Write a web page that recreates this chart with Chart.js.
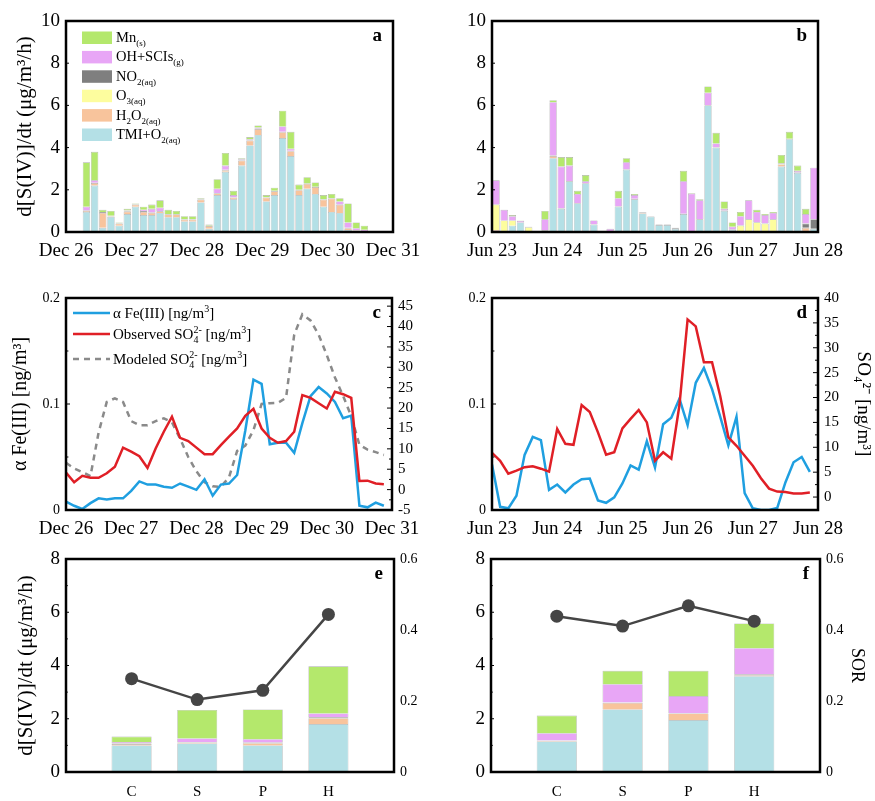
<!DOCTYPE html>
<html>
<head>
<meta charset="utf-8">
<script src="https://cdn.jsdelivr.net/npm/chart.js@4.4.0/dist/chart.umd.min.js"></script>
<style>
  body { margin: 0; background: #fff; width: 875px; height: 801px; position: relative; overflow: hidden; }
  canvas { position: absolute; }
</style>
</head>
<body>
<canvas id="pa" width="440" height="260" style="left:0;top:0"></canvas>
<canvas id="pb" width="435" height="260" style="left:440px;top:0"></canvas>
<canvas id="pc" width="440" height="275" style="left:0;top:260px"></canvas>
<canvas id="pd" width="435" height="275" style="left:440px;top:260px"></canvas>
<canvas id="pe" width="440" height="266" style="left:0;top:535px"></canvas>
<canvas id="pf" width="435" height="266" style="left:440px;top:535px"></canvas>
<script>
/* S(IV) oxidation pathways, Fe(III) and sulfate — six panels */

// ── tick labels ─────────────────────────────────────────────────
const winterDays = ['Dec 26', 'Dec 27', 'Dec 28', 'Dec 29', 'Dec 30', 'Dec 31'];
const summerDays = ['Jun 23', 'Jun 24', 'Jun 25', 'Jun 26', 'Jun 27', 'Jun 28'];
const groups = ['C', 'S', 'P', 'H'];

// ── panel a: 3-hourly rates, winter ─────────────────────────────
const aTMI  = [0, 0, 0.95, 2.2, 0.2, 0.72, 0.3, 0.85, 1.2, 0.8, 0.8, 0.9, 0.7, 0.7, 0.5, 0.5, 1.4, 0.15, 1.75, 2.85, 1.55, 3.15, 4.1, 4.6, 1.45, 1.75, 4.45, 3.6, 1.75, 2.05, 1.8, 1.2, 0.95, 0.9, 0.1, 0.05, 0, 0, 0, 0];
const aH2O2 = [0, 0, 0.05, 0.12, 0.7, 0.03, 0.1, 0.12, 0.1, 0.15, 0.1, 0.08, 0.13, 0.13, 0.08, 0.08, 0.13, 0.13, 0.08, 0.08, 0.08, 0.23, 0.23, 0.28, 0.18, 0.18, 0.28, 0.23, 0.23, 0.23, 0.33, 0.33, 0.63, 0.38, 0.08, 0.02, 0.02, 0.02, 0.01, 0.01];
const aO3   = [0, 0, 0, 0, 0, 0, 0, 0, 0, 0, 0, 0, 0, 0, 0, 0, 0, 0, 0, 0, 0, 0, 0, 0, 0, 0, 0, 0, 0, 0, 0, 0, 0, 0, 0, 0, 0, 0, 0, 0];
const aNO2  = [0.02, 0.03, 0.02, 0.02, 0.05, 0.02, 0.02, 0.02, 0.02, 0.05, 0.02, 0.02, 0.02, 0.02, 0.02, 0.02, 0.02, 0.02, 0.02, 0.02, 0.02, 0.02, 0.02, 0.02, 0.02, 0.02, 0.02, 0.02, 0.02, 0.02, 0.02, 0.02, 0.02, 0.02, 0.02, 0.01, 0.01, 0.01, 0.01, 0.01];
const aOH   = [0, 0.02, 0.18, 0.11, 0, 0, 0, 0.03, 0, 0.05, 0.18, 0.15, 0, 0, 0, 0, 0, 0, 0.2, 0.2, 0.1, 0.05, 0.05, 0.05, 0, 0, 0.25, 0.1, 0, 0, 0, 0, 0, 0.15, 0.25, 0.1, 0.08, 0.01, 0.01, 0];
const aMn   = [0, 0, 2.1, 1.35, 0.1, 0.23, 0.03, 0.08, 0.03, 0.15, 0.2, 0.35, 0.2, 0.15, 0.15, 0.15, 0.05, 0.05, 0.45, 0.6, 0.2, 0.05, 0.1, 0.1, 0.1, 0.15, 0.75, 0.8, 0.25, 0.3, 0.2, 0.2, 0.2, 0.15, 0.9, 0.27, 0.19, 0.01, 0, 0];

// ── panel b: 3-hourly rates, summer ─────────────────────────────
const bTMI  = [0.05, 0, 0.3, 0.45, 0, 0, 0.03, 3.5, 1.1, 2.4, 1.35, 2.3, 0.35, 0, 0, 1.2, 2.95, 1.55, 0.88, 0.73, 0.33, 0.33, 0.15, 0.85, 0, 0.6, 6.0, 4.0, 1.0, 0.1, 0, 0, 0, 0.05, 0, 3.1, 4.4, 2.8, 0, 0.15];
const bH2O2 = [0.05, 0, 0, 0, 0.05, 0, 0, 0.1, 0, 0, 0, 0, 0, 0, 0, 0, 0, 0, 0.05, 0, 0, 0, 0, 0, 0, 0, 0, 0, 0, 0, 0, 0, 0, 0, 0, 0.1, 0, 0, 0.2, 0];
const bO3   = [1.2, 0.55, 0.25, 0, 0.18, 0, 0, 0, 0, 0, 0, 0, 0, 0, 0, 0, 0, 0, 0, 0, 0, 0, 0, 0, 0, 0, 0, 0, 0, 0, 0.3, 0.6, 0.45, 0.35, 0.6, 0.05, 0, 0, 0, 0];
const bNO2  = [0, 0, 0, 0, 0.02, 0.05, 0.05, 0.02, 0.02, 0.02, 0.02, 0.02, 0.02, 0.01, 0.01, 0.02, 0.02, 0.02, 0.02, 0.02, 0.02, 0.02, 0.05, 0.02, 0.02, 0.02, 0.02, 0.02, 0.02, 0.02, 0.02, 0.02, 0.02, 0.02, 0.02, 0.02, 0.02, 0.02, 0.2, 0.45];
const bOH   = [1.15, 0.5, 0.2, 0.08, 0, 0, 0.52, 2.53, 1.98, 0.73, 0.43, 0.08, 0.18, 0.02, 0.14, 0.38, 0.33, 0.18, 0, 0, 0, 0, 0, 1.53, 1.8, 0.88, 0.58, 0.18, 0.08, 0.13, 0.43, 0.88, 0.48, 0.38, 0.28, 0, 0, 0.08, 0.45, 2.45];
const bMn   = [0, 0, 0.05, 0.02, 0, 0, 0.4, 0.1, 0.45, 0.4, 0.15, 0.3, 0, 0, 0, 0.35, 0.2, 0.05, 0, 0, 0, 0, 0, 0.5, 0.03, 0.05, 0.3, 0.5, 0.35, 0.2, 0.2, 0, 0.1, 0.05, 0.05, 0.38, 0.33, 0.25, 0.25, 0];

// ── panel c: winter Fe(III) and sulfate ─────────────────────────
const cFe  = [0.008, 0.004, 0.001, 0.0065, 0.011, 0.010, 0.011, 0.011, 0.018, 0.027, 0.024, 0.024, 0.022, 0.021, 0.025, 0.022, 0.019, 0.029, 0.0135, 0.024, 0.025, 0.033, 0.075, 0.123, 0.119, 0.062, 0.0635, 0.0635, 0.054, 0.082, 0.1075, 0.116, 0.110, 0.102, 0.0865, 0.089, 0.004, 0.0025, 0.007, 0.004];
const cObs = [4.2, 1.8, 3.4, 2.9, 2.9, 4.0, 5.6, 10.3, 9.3, 8.2, 5.3, 10.1, 14.2, 17.9, 12.7, 11.9, 10.3, 8.7, 8.7, 10.9, 13.0, 15.0, 18.1, 19.8, 15.0, 12.7, 11.5, 11.9, 14.2, 23.2, 22.5, 21.2, 19.9, 24.0, 23.4, 22.5, 2.1, 2.2, 1.5, 1.3];
const cMod = [6.6, 5.2, 4.3, 3.3, 14, 21.5, 22.4, 21.5, 16.8, 15.8, 15.8, 16.8, 17.5, 16.5, 12.5, 8, 4.5, 1.8, 0.8, 0.7, 3, 9.5, 10.8, 14.6, 21, 21.2, 21.3, 22.5, 38, 43, 41.5, 38, 33, 27.5, 23, 18, 11, 9.8, 9.2, 8.5];

// ── panel d: summer Fe(III) and sulfate ─────────────────────────
const dFe  = [0.043, 0.003, 0.0016, 0.0135, 0.052, 0.069, 0.066, 0.019, 0.024, 0.0165, 0.024, 0.029, 0.0296, 0.009, 0.0068, 0.012, 0.025, 0.042, 0.038, 0.065, 0.040, 0.081, 0.087, 0.105, 0.080, 0.120, 0.134, 0.114, 0.088, 0.061, 0.088, 0.016, 0.0016, 0, 0, 0.002, 0.026, 0.045, 0.050, 0.036];
const dObs = [8.9, 7.3, 4.7, 5.3, 6.0, 6.2, 5.7, 5.1, 13.7, 10.7, 10.5, 18.5, 17.1, 13.0, 8.5, 9.0, 13.8, 15.7, 17.5, 15.0, 7.3, 9.0, 7.7, 18.5, 35.7, 34.3, 27.1, 27.1, 20.3, 12.0, 10.3, 8.3, 6.3, 3.8, 1.7, 1.1, 1.0, 0.7, 0.7, 0.9];

// ── panels e, f: mean rates per period and SOR ──────────────────
const eTMI  = [1.0, 1.07, 1.0, 1.8];
const eH2O2 = [0.05, 0.03, 0.08, 0.22];
const eO3   = [0.01, 0.01, 0.01, 0.02];
const eNO2  = [0.02, 0.02, 0.02, 0.03];
const eOH   = [0.05, 0.13, 0.12, 0.13];
const eMn   = [0.2, 1.07, 1.12, 1.77];
const eSOR  = [0.263, 0.204, 0.23, 0.444];

const fTMI  = [1.15, 2.35, 1.95, 3.6];
const fH2O2 = [0.02, 0.25, 0.25, 0.03];
const fO3   = [0, 0, 0, 0];
const fNO2  = [0.01, 0.01, 0.01, 0.04];
const fOH   = [0.28, 0.69, 0.64, 0.98];
const fMn   = [0.66, 0.5, 0.95, 0.93];
const fSOR  = [0.439, 0.411, 0.468, 0.425];

// ── styling ─────────────────────────────────────────────────────
const FONT = '"Liberation Serif", "Times New Roman", serif';
Chart.defaults.font.family = FONT;
Chart.defaults.color = '#000';

const col = {
  TMI: '#b4e0e6', H2O2: '#f8c49c', O3: '#fdfd9e',
  NO2: '#7f7f7f', OH: '#e8a6f6', Mn: '#b4e86c',
};
const blue = '#1f9fe0', red = '#e01f26', grey = '#8a8a8a';

const legendBars = [
  { color: col.Mn,   parts: [['Mn', ''], ['(s)', 'sub']] },
  { color: col.OH,   parts: [['OH+SCIs', ''], ['(g)', 'sub']] },
  { color: col.NO2,  parts: [['NO', ''], ['2(aq)', 'sub']] },
  { color: col.O3,   parts: [['O', ''], ['3(aq)', 'sub']] },
  { color: col.H2O2, parts: [['H', ''], ['2', 'sub'], ['O', ''], ['2(aq)', 'sub']] },
  { color: col.TMI,  parts: [['TMI+O', ''], ['2(aq)', 'sub']] },
];
const legendLines = [
  { color: blue, dash: [], parts: [['\u03b1 Fe(III) [ng/m', ''], ['3', 'sup'], [']', '']] },
  { color: red,  dash: [], parts: [['Observed SO', ''], ['4', 'sub'], ['2-', 'over'], [' [ng/m', ''], ['3', 'sup'], [']', '']] },
  { color: grey, dash: [6, 5], parts: [['Modeled SO', ''], ['4', 'sub'], ['2-', 'over'], [' [ng/m', ''], ['3', 'sup'], [']', '']] },
];
const legendLineY = [15, 36, 61];

// text with sub/superscripts on the canvas
function richText(ctx, parts, x, y, size, ratio) {
  let cx = x, lastStart = x, lastEnd = x;
  for (const [t, m] of parts) {
    const s = m ? Math.round(size * ratio) : size;
    ctx.font = `${s}px ${FONT}`;
    const w = ctx.measureText(t).width;
    const sx = m === 'over' ? lastStart : cx;
    const dy = m === 'sub' ? size * 0.28 : (m === 'sup' || m === 'over') ? -size * 0.42 : 0;
    ctx.fillText(t, sx, y + dy);
    if (m === 'over') {
      cx = Math.max(lastEnd, sx + w);
    } else {
      lastStart = sx; lastEnd = sx + w; cx = sx + w;
    }
  }
}

// frame, inward ticks, legend and panel letter
const panelPlugin = {
  id: 'panel',
  afterDatasetsDraw(chart, args, o) {
    const { ctx, chartArea: ca } = chart;
    ctx.save();
    ctx.textAlign = 'left';
    ctx.textBaseline = 'alphabetic';

    if (o.legend === 'bars') {
      legendBars.forEach((item, k) => {
        const y = ca.top + 10.5 + k * 19.4;
        ctx.fillStyle = item.color;
        ctx.fillRect(ca.left + 16, y, 30, 12.5);
        ctx.fillStyle = '#000';
        richText(ctx, item.parts, ca.left + 50, y + 10.5, 14.5, 0.6);
      });
    }
    if (o.legend === 'lines') {
      legendLines.forEach((item, k) => {
        const y = ca.top + legendLineY[k];
        ctx.strokeStyle = item.color;
        ctx.lineWidth = 2.5;
        ctx.setLineDash(item.dash);
        ctx.beginPath();
        ctx.moveTo(ca.left + 7, y);
        ctx.lineTo(ca.left + 44, y);
        ctx.stroke();
        ctx.setLineDash([]);
        ctx.fillStyle = '#000';
        richText(ctx, item.parts, ca.left + 47, y + 5, 15, 0.68);
      });
    }

    ctx.strokeStyle = '#000';
    ctx.lineWidth = 1;
    (o.ticks || []).forEach(([id, len, minor]) => {
      const s = chart.scales[id];
      const edge = s.position === 'left' ? ca.left : ca.right;
      const dir = s.position === 'left' ? 1 : -1;
      const px = s.ticks.map(t => s.getPixelForValue(t.value));
      ctx.beginPath();
      px.forEach((p, i) => {
        ctx.moveTo(edge, p); ctx.lineTo(edge + dir * len, p);
        if (minor && i > 0) {
          const m = (p + px[i - 1]) / 2;
          ctx.moveTo(edge, m); ctx.lineTo(edge + dir * len * 0.6, m);
        }
      });
      ctx.stroke();
    });

    ctx.lineWidth = 2.5;
    ctx.strokeRect(ca.left, ca.top, ca.right - ca.left, ca.bottom - ca.top);

    ctx.fillStyle = '#000';
    ctx.font = `bold 19px ${FONT}`;
    ctx.textAlign = 'right';
    ctx.textBaseline = 'middle';
    ctx.fillText(o.letter, ca.right - 11, ca.top + 15);
    ctx.restore();
  },
};

// ── axis helpers ────────────────────────────────────────────────
function vAxis(o) {
  return {
    type: 'linear', position: o.pos || 'left', min: o.min, max: o.max,
    grid: { display: false, drawTicks: false }, border: { display: false },
    ticks: { stepSize: o.step, includeBounds: false, padding: 6, font: { size: o.size } },
    title: o.title
      ? { display: true, text: o.title, font: { size: o.tsize }, padding: { top: o.tpad, bottom: 0 } }
      : { display: false },
    afterFit: s => { s.width = o.w; },
  };
}

function dayAxis(labels, h) {
  return {
    type: 'linear', min: 0, max: 40, offset: false,
    grid: { display: false, drawTicks: false }, border: { display: false },
    ticks: { stepSize: 8, autoSkip: false, maxRotation: 0, padding: 8, font: { size: 19 },
             callback: v => labels[v / 8] },
    afterFit: s => { s.height = h; },
  };
}

function groupAxis(h) {
  return {
    type: 'linear', min: 0, max: 5, offset: false,
    grid: { display: false, drawTicks: false }, border: { display: false },
    ticks: { stepSize: 1, autoSkip: false, maxRotation: 0, padding: 11, font: { size: 15 },
             callback: v => groups[v - 1] || '' },
    afterFit: s => { s.height = h; },
  };
}

function stack(series, xOf, pct) {
  return series.map(([vals, color]) => ({
    type: 'bar', stack: 's', yAxisID: 'y',
    data: vals.map((v, i) => ({ x: xOf(i), y: v })),
    backgroundColor: color,
    borderColor: 'rgba(105,105,105,0.55)',
    borderWidth: 0.6,
    barPercentage: pct, categoryPercentage: 1,
  }));
}

function line(vals, color, axis, dash) {
  return {
    type: 'line', yAxisID: axis,
    data: vals.map((v, i) => ({ x: i, y: v })),
    borderColor: color, borderWidth: 2.5, borderDash: dash || [],
    pointRadius: 0, tension: 0, fill: false,
  };
}

function sorLine(vals) {
  return {
    type: 'line', yAxisID: 'y1',
    data: vals.map((v, i) => ({ x: i + 1, y: v })),
    borderColor: '#454545', borderWidth: 2.5,
    pointRadius: 6.5, pointBackgroundColor: '#454545', pointBorderWidth: 0,
    tension: 0, fill: false,
  };
}

function panel(id, type, datasets, scales, pad, extra) {
  return new Chart(document.getElementById(id), {
    type,
    data: { datasets },
    options: {
      responsive: false, animation: false, events: [],
      layout: { padding: pad },
      plugins: { legend: { display: false }, tooltip: { enabled: false }, panel: extra },
      scales,
    },
    plugins: [panelPlugin],
  });
}

const rateTitle = 'd[S(IV)]/dt (\u03bcg/m\u00b3/h)';
const slot = i => i + 0.5;

// ── a ──
panel('pa', 'bar',
  stack([[aTMI, col.TMI], [aH2O2, col.H2O2], [aO3, col.O3], [aNO2, col.NO2], [aOH, col.OH], [aMn, col.Mn]], slot, 0.9),
  {
    x: dayAxis(winterDays, 28),
    y: Object.assign(vAxis({ min: 0, max: 10, step: 2, size: 19, w: 66, title: rateTitle, tsize: 21, tpad: 13 }), { stacked: true }),
  },
  { top: 21, right: 47, bottom: 0, left: 0 },
  { letter: 'a', legend: 'bars', ticks: [['y', 3]] });

// ── b ──
panel('pb', 'bar',
  stack([[bTMI, col.TMI], [bH2O2, col.H2O2], [bO3, col.O3], [bNO2, col.NO2], [bOH, col.OH], [bMn, col.Mn]], slot, 0.9),
  {
    x: dayAxis(summerDays, 28),
    y: Object.assign(vAxis({ min: 0, max: 10, step: 2, size: 19, w: 52 }), { stacked: true }),
  },
  { top: 21, right: 57, bottom: 0, left: 0 },
  { letter: 'b', ticks: [['y', 3]] });

// ── c ──
panel('pc', 'line',
  [line(cObs, red, 'y1'), line(cFe, blue, 'y'), line(cMod, grey, 'y1', [6, 5])],
  {
    x: dayAxis(winterDays, 25),
    y: vAxis({ min: 0, max: 0.2, step: 0.1, size: 14, w: 66, title: '\u03b1 Fe(III) [ng/m\u00b3]', tsize: 20, tpad: 9 }),
    y1: vAxis({ pos: 'right', min: -5, max: 47, step: 5, size: 15, w: 48 }),
  },
  { top: 38, right: 0, bottom: 0, left: 0 },
  { letter: 'c', legend: 'lines', ticks: [['y', 4, true], ['y1', 5, true]] });

// ── d ──
panel('pd', 'line',
  [line(dObs, red, 'y1'), line(dFe, blue, 'y')],
  {
    x: dayAxis(summerDays, 25),
    y: vAxis({ min: 0, max: 0.2, step: 0.1, size: 14, w: 52 }),
    y1: vAxis({ pos: 'right', min: -2.6, max: 40, step: 5, size: 15, w: 57, title: 'SO\u2084\u00b2\u207b [ng/m\u00b3]', tsize: 19, tpad: 1 }),
  },
  { top: 38, right: 0, bottom: 0, left: 0 },
  { letter: 'd', ticks: [['y', 4, true], ['y1', 5, true]] });

// ── e ──
panel('pe', 'bar',
  [sorLine(eSOR)].concat(stack([[eTMI, col.TMI], [eH2O2, col.H2O2], [eO3, col.O3], [eNO2, col.NO2], [eOH, col.OH], [eMn, col.Mn]], i => i + 1, 0.61)),
  {
    x: groupAxis(29),
    y: Object.assign(vAxis({ min: 0, max: 8, step: 2, size: 19, w: 66, title: rateTitle, tsize: 21, tpad: 14 }), { stacked: true }),
    y1: vAxis({ pos: 'right', min: 0, max: 0.6, step: 0.2, size: 14, w: 46 }),
  },
  { top: 24, right: 0, bottom: 0, left: 0 },
  { letter: 'e', ticks: [['y', 3, true]] });

// ── f ──
panel('pf', 'bar',
  [sorLine(fSOR)].concat(stack([[fTMI, col.TMI], [fH2O2, col.H2O2], [fO3, col.O3], [fNO2, col.NO2], [fOH, col.OH], [fMn, col.Mn]], i => i + 1, 0.61)),
  {
    x: groupAxis(29),
    y: Object.assign(vAxis({ min: 0, max: 8, step: 2, size: 19, w: 51 }), { stacked: true }),
    y1: vAxis({ pos: 'right', min: 0, max: 0.6, step: 0.2, size: 14, w: 55, title: 'SOR', tsize: 18, tpad: 7 }),
  },
  { top: 24, right: 0, bottom: 0, left: 0 },
  { letter: 'f', ticks: [['y', 3, true]] });
</script>
</body>
</html>
